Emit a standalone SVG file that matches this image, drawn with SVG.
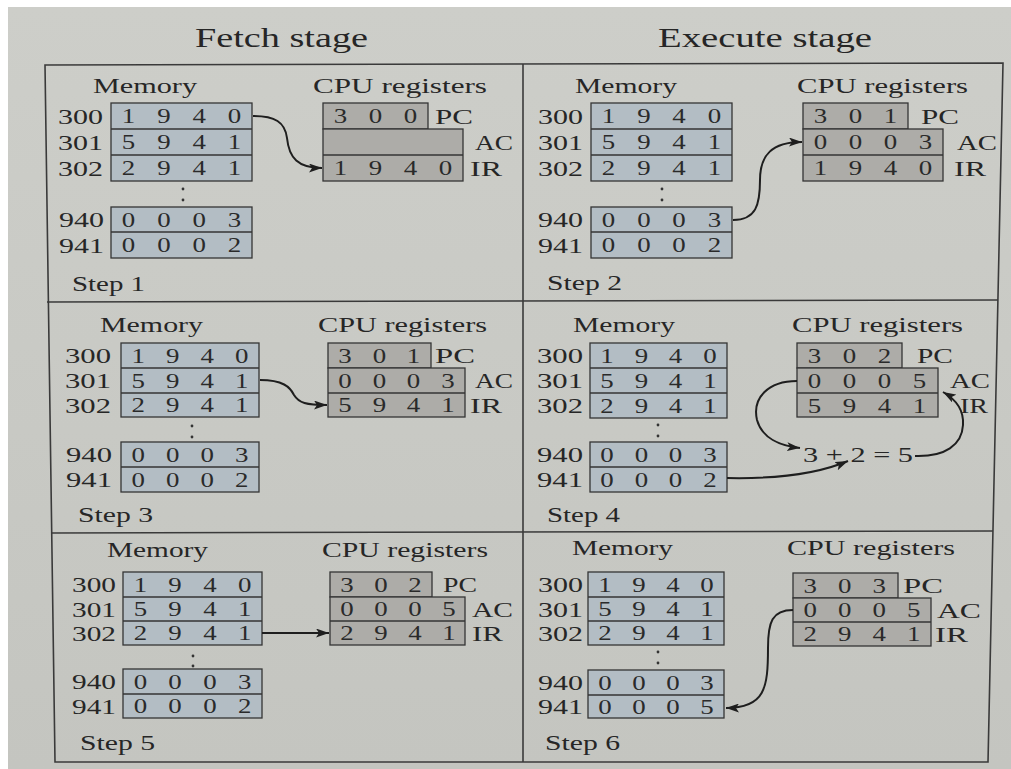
<svg xmlns="http://www.w3.org/2000/svg" width="1011" height="769" viewBox="0 0 1011 769">
<style>
.t{font-family:"Liberation Serif","Times New Roman",serif;fill:#262626}
.h{font-size:27px}
.l{font-size:22px}
.d{font-family:"Liberation Serif","Times New Roman",serif;fill:#2a2a2a;font-size:21.5px;text-anchor:middle}
.mem{fill:#b3bdc4;stroke:#353535;stroke-width:1.3}
.reg{fill:#adaca8;stroke:#353535;stroke-width:1.3}
.dv{stroke:#353535;stroke-width:1.3}
.grid{stroke:#3a3a3a;stroke-width:1.6;fill:none}
.arrow{fill:none;stroke:#1e1e1e;stroke-width:2;marker-end:url(#ah)}
.dot{fill:#333}
</style>
<defs>
<linearGradient id="paper" x1="0" y1="0" x2="0" y2="1">
<stop offset="0" stop-color="#cdcec9"/>
<stop offset="1" stop-color="#c4c5c0"/>
</linearGradient>
<marker id="ah" markerUnits="userSpaceOnUse" markerWidth="14" markerHeight="9" refX="13" refY="4.5" orient="auto">
<path d="M0,0 L13,4.5 L0,9 L3,4.5 Z" fill="#1e1e1e"/>
</marker>
</defs>
<rect width="1011" height="769" fill="#ffffff"/>
<rect x="8" y="7" width="1003" height="762" fill="url(#paper)"/>

<g id="headings">
<text class="t h" x="195" y="47" textLength="173" lengthAdjust="spacingAndGlyphs">Fetch stage</text>
<text class="t h" x="658" y="47" textLength="214" lengthAdjust="spacingAndGlyphs">Execute stage</text>
</g>

<g id="grid" class="grid">
<path d="M45,65 L1003,63 L988,762 L55,762 Z"/>
<line x1="523" y1="64" x2="523" y2="762"/>
<line x1="47" y1="302" x2="998" y2="300"/>
<line x1="51" y1="533" x2="993" y2="531"/>
</g>

<!-- Step 1 -->
<g id="p1-memory">
<text class="t l" x="93" y="93" textLength="104" lengthAdjust="spacingAndGlyphs">Memory</text>
<rect class="mem" x="111" y="103" width="141" height="78"/>
<line class="dv" x1="111" y1="129" x2="252" y2="129"/>
<line class="dv" x1="111" y1="155" x2="252" y2="155"/>
<rect class="mem" x="111" y="207" width="141" height="51"/>
<line class="dv" x1="111" y1="232" x2="252" y2="232"/>
<text class="t l" x="58" y="123.5" textLength="45" lengthAdjust="spacingAndGlyphs">300</text>
<text class="t l" x="58" y="149.5" textLength="45" lengthAdjust="spacingAndGlyphs">301</text>
<text class="t l" x="58" y="175.5" textLength="45" lengthAdjust="spacingAndGlyphs">302</text>
<text class="t l" x="59" y="227" textLength="45" lengthAdjust="spacingAndGlyphs">940</text>
<text class="t l" x="59" y="252.5" textLength="45" lengthAdjust="spacingAndGlyphs">941</text>
<g transform="scale(1.25,1)">
<text class="d" x="102.88 131.12 159.28 187.52" y="123.5">1940</text>
<text class="d" x="102.88 131.12 159.28 187.52" y="149.5">5941</text>
<text class="d" x="102.88 131.12 159.28 187.52" y="175.5">2941</text>
<text class="d" x="102.88 131.12 159.28 187.52" y="227">0003</text>
<text class="d" x="102.88 131.12 159.28 187.52" y="252.5">0002</text>
</g>
<circle class="dot" cx="183" cy="189" r="1.4"/>
<circle class="dot" cx="183" cy="200" r="1.4"/>
</g>
<g id="p1-registers">
<text class="t l" x="313" y="93" textLength="174" lengthAdjust="spacingAndGlyphs">CPU registers</text>
<rect class="reg" x="323" y="103" width="105" height="26"/>
<rect class="reg" x="323" y="129" width="140" height="52"/>
<line class="dv" x1="323" y1="155" x2="463" y2="155"/>
<g transform="scale(1.25,1)">
<text class="d" x="272.4 300.4 328.4" y="123.5">300</text>
<text class="d" x="272.4 300.4 328.4 356.4" y="175.5">1940</text>
</g>
<text class="t l" x="435" y="123.5" textLength="38" lengthAdjust="spacingAndGlyphs">PC</text>
<text class="t l" x="475" y="149.5" textLength="38" lengthAdjust="spacingAndGlyphs">AC</text>
<text class="t l" x="470" y="175.5" textLength="32" lengthAdjust="spacingAndGlyphs">IR</text>
</g>
<g id="p1-label"><text class="t l" x="72" y="291" textLength="73" lengthAdjust="spacingAndGlyphs">Step 1</text></g>

<!-- Step 2 -->
<g id="p2-memory">
<text class="t l" x="575" y="93" textLength="102" lengthAdjust="spacingAndGlyphs">Memory</text>
<rect class="mem" x="591" y="103" width="141" height="78"/>
<line class="dv" x1="591" y1="129" x2="732" y2="129"/>
<line class="dv" x1="591" y1="155" x2="732" y2="155"/>
<rect class="mem" x="591" y="207" width="141" height="51"/>
<line class="dv" x1="591" y1="232" x2="732" y2="232"/>
<text class="t l" x="538" y="123.5" textLength="45" lengthAdjust="spacingAndGlyphs">300</text>
<text class="t l" x="538" y="149.5" textLength="45" lengthAdjust="spacingAndGlyphs">301</text>
<text class="t l" x="538" y="175.5" textLength="45" lengthAdjust="spacingAndGlyphs">302</text>
<text class="t l" x="538" y="227" textLength="45" lengthAdjust="spacingAndGlyphs">940</text>
<text class="t l" x="538" y="252.5" textLength="45" lengthAdjust="spacingAndGlyphs">941</text>
<g transform="scale(1.25,1)">
<text class="d" x="486.88 515.12 543.28 571.52" y="123.5">1940</text>
<text class="d" x="486.88 515.12 543.28 571.52" y="149.5">5941</text>
<text class="d" x="486.88 515.12 543.28 571.52" y="175.5">2941</text>
<text class="d" x="486.88 515.12 543.28 571.52" y="227">0003</text>
<text class="d" x="486.88 515.12 543.28 571.52" y="252.5">0002</text>
</g>
<circle class="dot" cx="662" cy="189" r="1.4"/>
<circle class="dot" cx="662" cy="200" r="1.4"/>
</g>
<g id="p2-registers">
<text class="t l" x="797" y="93" textLength="171" lengthAdjust="spacingAndGlyphs">CPU registers</text>
<rect class="reg" x="803" y="103" width="105" height="26"/>
<rect class="reg" x="803" y="129" width="140" height="52"/>
<line class="dv" x1="803" y1="155" x2="943" y2="155"/>
<g transform="scale(1.25,1)">
<text class="d" x="656.4 684.4 712.4" y="123.5">301</text>
<text class="d" x="656.4 684.4 712.4 740.4" y="149.5">0003</text>
<text class="d" x="656.4 684.4 712.4 740.4" y="175.5">1940</text>
</g>
<text class="t l" x="921" y="123.5" textLength="38" lengthAdjust="spacingAndGlyphs">PC</text>
<text class="t l" x="957" y="149.5" textLength="40" lengthAdjust="spacingAndGlyphs">AC</text>
<text class="t l" x="954" y="175.5" textLength="32" lengthAdjust="spacingAndGlyphs">IR</text>
</g>
<g id="p2-label"><text class="t l" x="547" y="290" textLength="75" lengthAdjust="spacingAndGlyphs">Step 2</text></g>

<!-- Step 3 -->
<g id="p3-memory">
<text class="t l" x="100" y="332" textLength="103" lengthAdjust="spacingAndGlyphs">Memory</text>
<rect class="mem" x="121" y="343" width="138" height="74"/>
<line class="dv" x1="121" y1="368" x2="259" y2="368"/>
<line class="dv" x1="121" y1="393" x2="259" y2="393"/>
<rect class="mem" x="121" y="442" width="138" height="50"/>
<line class="dv" x1="121" y1="467" x2="259" y2="467"/>
<text class="t l" x="65" y="363" textLength="46" lengthAdjust="spacingAndGlyphs">300</text>
<text class="t l" x="65" y="388" textLength="46" lengthAdjust="spacingAndGlyphs">301</text>
<text class="t l" x="65" y="412.5" textLength="46" lengthAdjust="spacingAndGlyphs">302</text>
<text class="t l" x="66" y="462" textLength="46" lengthAdjust="spacingAndGlyphs">940</text>
<text class="t l" x="66" y="487" textLength="46" lengthAdjust="spacingAndGlyphs">941</text>
<g transform="scale(1.25,1)">
<text class="d" x="110.64 138.24 165.84 193.44" y="363">1940</text>
<text class="d" x="110.64 138.24 165.84 193.44" y="388">5941</text>
<text class="d" x="110.64 138.24 165.84 193.44" y="412.5">2941</text>
<text class="d" x="110.64 138.24 165.84 193.44" y="462">0003</text>
<text class="d" x="110.64 138.24 165.84 193.44" y="487">0002</text>
</g>
<circle class="dot" cx="192" cy="426" r="1.4"/>
<circle class="dot" cx="192" cy="437" r="1.4"/>
</g>
<g id="p3-registers">
<text class="t l" x="318" y="332" textLength="169" lengthAdjust="spacingAndGlyphs">CPU registers</text>
<rect class="reg" x="328" y="343" width="103" height="25"/>
<rect class="reg" x="328" y="368" width="137" height="49"/>
<line class="dv" x1="328" y1="393" x2="465" y2="393"/>
<g transform="scale(1.25,1)">
<text class="d" x="276.08 303.52 330.88" y="363">301</text>
<text class="d" x="276.08 303.52 330.88 358.32" y="388">0003</text>
<text class="d" x="276.08 303.52 330.88 358.32" y="412.5">5941</text>
</g>
<text class="t l" x="435" y="363" textLength="40" lengthAdjust="spacingAndGlyphs">PC</text>
<text class="t l" x="475" y="388" textLength="38" lengthAdjust="spacingAndGlyphs">AC</text>
<text class="t l" x="470" y="412.5" textLength="32" lengthAdjust="spacingAndGlyphs">IR</text>
</g>
<g id="p3-label"><text class="t l" x="78" y="522" textLength="75" lengthAdjust="spacingAndGlyphs">Step 3</text></g>

<!-- Step 4 -->
<g id="p4-memory">
<text class="t l" x="573" y="332" textLength="102" lengthAdjust="spacingAndGlyphs">Memory</text>
<rect class="mem" x="590" y="343" width="137" height="75"/>
<line class="dv" x1="590" y1="368" x2="727" y2="368"/>
<line class="dv" x1="590" y1="393" x2="727" y2="393"/>
<rect class="mem" x="590" y="442" width="137" height="50"/>
<line class="dv" x1="590" y1="467" x2="727" y2="467"/>
<text class="t l" x="537" y="363" textLength="46" lengthAdjust="spacingAndGlyphs">300</text>
<text class="t l" x="537" y="388" textLength="46" lengthAdjust="spacingAndGlyphs">301</text>
<text class="t l" x="537" y="413" textLength="46" lengthAdjust="spacingAndGlyphs">302</text>
<text class="t l" x="537" y="462" textLength="46" lengthAdjust="spacingAndGlyphs">940</text>
<text class="t l" x="537" y="487" textLength="46" lengthAdjust="spacingAndGlyphs">941</text>
<g transform="scale(1.25,1)">
<text class="d" x="485.68 513.12 540.48 567.92" y="363">1940</text>
<text class="d" x="485.68 513.12 540.48 567.92" y="388">5941</text>
<text class="d" x="485.68 513.12 540.48 567.92" y="413">2941</text>
<text class="d" x="485.68 513.12 540.48 567.92" y="462">0003</text>
<text class="d" x="485.68 513.12 540.48 567.92" y="487">0002</text>
</g>
<circle class="dot" cx="658" cy="425" r="1.4"/>
<circle class="dot" cx="658" cy="436" r="1.4"/>
</g>
<g id="p4-registers">
<text class="t l" x="792" y="332" textLength="171" lengthAdjust="spacingAndGlyphs">CPU registers</text>
<rect class="reg" x="797" y="343" width="105" height="25"/>
<rect class="reg" x="797" y="368" width="141" height="49"/>
<line class="dv" x1="797" y1="393" x2="938" y2="393"/>
<g transform="scale(1.25,1)">
<text class="d" x="651.6 679.6 707.6" y="363">302</text>
<text class="d" x="651.6 679.6 707.6 735.6" y="388">0005</text>
<text class="d" x="651.6 679.6 707.6 735.6" y="413">5941</text>
</g>
<text class="t l" x="917" y="363" textLength="36" lengthAdjust="spacingAndGlyphs">PC</text>
<text class="t l" x="950" y="388" textLength="40" lengthAdjust="spacingAndGlyphs">AC</text>
<text class="t l" x="960" y="413" textLength="28" lengthAdjust="spacingAndGlyphs">IR</text>
</g>
<g id="p4-sum"><text class="t l" x="803" y="462" textLength="110" lengthAdjust="spacingAndGlyphs">3 + 2 = 5</text></g>
<g id="p4-label"><text class="t l" x="547" y="522" textLength="73" lengthAdjust="spacingAndGlyphs">Step 4</text></g>

<!-- Step 5 -->
<g id="p5-memory">
<text class="t l" x="107" y="557" textLength="101" lengthAdjust="spacingAndGlyphs">Memory</text>
<rect class="mem" x="123" y="572" width="139" height="73"/>
<line class="dv" x1="123" y1="597" x2="262" y2="597"/>
<line class="dv" x1="123" y1="621" x2="262" y2="621"/>
<rect class="mem" x="123" y="669" width="139" height="49"/>
<line class="dv" x1="123" y1="694" x2="262" y2="694"/>
<text class="t l" x="72" y="592" textLength="44" lengthAdjust="spacingAndGlyphs">300</text>
<text class="t l" x="72" y="616.5" textLength="44" lengthAdjust="spacingAndGlyphs">301</text>
<text class="t l" x="72" y="640.5" textLength="44" lengthAdjust="spacingAndGlyphs">302</text>
<text class="t l" x="72" y="689" textLength="44" lengthAdjust="spacingAndGlyphs">940</text>
<text class="t l" x="72" y="713.5" textLength="44" lengthAdjust="spacingAndGlyphs">941</text>
<g transform="scale(1.25,1)">
<text class="d" x="112.32 140.08 167.92 195.68" y="592">1940</text>
<text class="d" x="112.32 140.08 167.92 195.68" y="616.5">5941</text>
<text class="d" x="112.32 140.08 167.92 195.68" y="640.5">2941</text>
<text class="d" x="112.32 140.08 167.92 195.68" y="689">0003</text>
<text class="d" x="112.32 140.08 167.92 195.68" y="713.5">0002</text>
</g>
<circle class="dot" cx="193" cy="656" r="1.4"/>
<circle class="dot" cx="193" cy="666" r="1.4"/>
</g>
<g id="p5-registers">
<text class="t l" x="322" y="557" textLength="166" lengthAdjust="spacingAndGlyphs">CPU registers</text>
<rect class="reg" x="330" y="572" width="102" height="25"/>
<rect class="reg" x="330" y="597" width="135" height="48"/>
<line class="dv" x1="330" y1="621" x2="465" y2="621"/>
<g transform="scale(1.25,1)">
<text class="d" x="277.6 304.8 332" y="592">302</text>
<text class="d" x="277.6 304.8 332 359.2" y="616.5">0005</text>
<text class="d" x="277.6 304.8 332 359.2" y="640.5">2941</text>
</g>
<text class="t l" x="443" y="592" textLength="34" lengthAdjust="spacingAndGlyphs">PC</text>
<text class="t l" x="472" y="616.5" textLength="41" lengthAdjust="spacingAndGlyphs">AC</text>
<text class="t l" x="472" y="640.5" textLength="31" lengthAdjust="spacingAndGlyphs">IR</text>
</g>
<g id="p5-label"><text class="t l" x="80" y="750" textLength="75" lengthAdjust="spacingAndGlyphs">Step 5</text></g>

<!-- Step 6 -->
<g id="p6-memory">
<text class="t l" x="572" y="555" textLength="101" lengthAdjust="spacingAndGlyphs">Memory</text>
<rect class="mem" x="588" y="572" width="136" height="73"/>
<line class="dv" x1="588" y1="597" x2="724" y2="597"/>
<line class="dv" x1="588" y1="621" x2="724" y2="621"/>
<rect class="mem" x="588" y="670" width="136" height="48"/>
<line class="dv" x1="588" y1="695" x2="724" y2="695"/>
<text class="t l" x="538" y="592" textLength="45" lengthAdjust="spacingAndGlyphs">300</text>
<text class="t l" x="538" y="616.5" textLength="45" lengthAdjust="spacingAndGlyphs">301</text>
<text class="t l" x="538" y="640.5" textLength="45" lengthAdjust="spacingAndGlyphs">302</text>
<text class="t l" x="538" y="690" textLength="45" lengthAdjust="spacingAndGlyphs">940</text>
<text class="t l" x="538" y="714" textLength="45" lengthAdjust="spacingAndGlyphs">941</text>
<g transform="scale(1.25,1)">
<text class="d" x="484 511.2 538.4 565.6" y="592">1940</text>
<text class="d" x="484 511.2 538.4 565.6" y="616.5">5941</text>
<text class="d" x="484 511.2 538.4 565.6" y="640.5">2941</text>
<text class="d" x="484 511.2 538.4 565.6" y="690">0003</text>
<text class="d" x="484 511.2 538.4 565.6" y="714">0005</text>
</g>
<circle class="dot" cx="658" cy="652" r="1.4"/>
<circle class="dot" cx="658" cy="663" r="1.4"/>
</g>
<g id="p6-registers">
<text class="t l" x="787" y="555" textLength="168" lengthAdjust="spacingAndGlyphs">CPU registers</text>
<rect class="reg" x="793" y="573" width="105" height="25"/>
<rect class="reg" x="793" y="598" width="138" height="48"/>
<line class="dv" x1="793" y1="622" x2="931" y2="622"/>
<g transform="scale(1.25,1)">
<text class="d" x="648.24 675.84 703.44" y="593">303</text>
<text class="d" x="648.24 675.84 703.44 731.04" y="617.5">0005</text>
<text class="d" x="648.24 675.84 703.44 731.04" y="641.5">2941</text>
</g>
<text class="t l" x="903" y="593" textLength="40" lengthAdjust="spacingAndGlyphs">PC</text>
<text class="t l" x="937" y="617.5" textLength="44" lengthAdjust="spacingAndGlyphs">AC</text>
<text class="t l" x="935" y="641.5" textLength="33" lengthAdjust="spacingAndGlyphs">IR</text>
</g>
<g id="p6-label"><text class="t l" x="545" y="750" textLength="75" lengthAdjust="spacingAndGlyphs">Step 6</text></g>

<g id="connectors">
<path class="arrow" d="M253,116 C275,116 285,122 287,138 C289,158 298,168 322,168"/>
<path class="arrow" d="M733,220 C756,220 760,205 760,180 C760,155 772,142 802,142"/>
<path class="arrow" d="M260,380 C283,380 290,387 294,395 C299,403 306,405 327,405"/>
<path class="arrow" d="M797,381 C768,381 752,398 757,420 C762,438 780,446 800,448"/>
<path class="arrow" d="M915,456 C945,457 962,445 963,425 C964,410 957,400 943,392"/>
<path class="arrow" d="M727,478 C775,479 815,475 848,461"/>
<path class="arrow" d="M262,633 L329,633"/>
<path class="arrow" d="M793,610 C772,610 768,622 768,648 C768,688 765,708 726,708"/>
</g>
</svg>
